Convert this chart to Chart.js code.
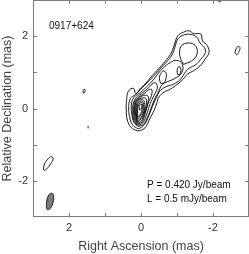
<!DOCTYPE html>
<html><head><meta charset="utf-8">
<script src="https://cdn.jsdelivr.net/npm/chart.js@4/dist/chart.umd.min.js"></script>
<style>html,body{margin:0;padding:0;background:#fff}canvas{display:block}</style>
</head><body>
<canvas id="c" width="249" height="254"></canvas>
<script>
// ---- data (mas) ----
const sourceName = '0917+624';
const peakLabel = 'P = 0.420 Jy/beam';
const lowestLabel = 'L = 0.5 mJy/beam';
const labeledTicks = [-2, 0, 2];
const tickMarks = [-2, -1, 0, 1, 2];
const xTitle = 'Right Ascension (mas)';
const yTitle = 'Relative Declination (mas)';

// jet contours, outermost first
const contour1 = [[0.10,-0.62],[0.27,-0.53],[0.38,-0.32],[0.41,-0.04],[0.40,0.24],[0.35,0.48],[0.21,0.56],[0.14,0.41],[0.03,0.54],[-0.16,0.73],[-0.32,0.92],[-0.49,1.10],[-0.64,1.27],[-0.78,1.44],[-0.87,1.60],[-0.94,1.81],[-1.03,2.02],[-1.18,2.11],[-1.33,2.15],[-1.47,2.07],[-1.66,2.06],[-1.71,1.87],[-1.84,1.74],[-1.89,1.55],[-1.77,1.35],[-1.64,1.18],[-1.47,1.05],[-1.29,0.95],[-1.18,0.82],[-1.01,0.67],[-0.82,0.54],[-0.64,0.45],[-0.50,0.32],[-0.44,0.15],[-0.36,-0.06],[-0.25,-0.27],[-0.14,-0.50],[-0.01,-0.60]];
const contour2 = [[0.08,-0.56],[0.23,-0.46],[0.32,-0.22],[0.34,0.06],[0.29,0.28],[0.16,0.38],[-0.04,0.58],[-0.23,0.77],[-0.42,0.97],[-0.58,1.15],[-0.73,1.31],[-0.86,1.48],[-0.94,1.69],[-1.03,1.93],[-1.21,2.04],[-1.38,2.05],[-1.55,1.97],[-1.64,1.81],[-1.76,1.68],[-1.79,1.55],[-1.66,1.36],[-1.52,1.21],[-1.33,1.11],[-1.25,1.03],[-1.08,0.79],[-0.90,0.67],[-0.69,0.60],[-0.53,0.49],[-0.42,0.29],[-0.32,0.06],[-0.22,-0.19],[-0.12,-0.41],[0.00,-0.53]];
const contour3 = [[0.07,-0.50],[0.19,-0.39],[0.26,-0.13],[0.26,0.15],[0.19,0.31],[0.01,0.45],[-0.21,0.65],[-0.38,0.84],[-0.51,1.01],[-0.66,1.16],[-0.81,1.27],[-0.95,1.33],[-1.10,1.29],[-1.16,1.18],[-1.16,1.06],[-1.10,0.94],[-0.99,0.86],[-0.86,0.79],[-0.73,0.74],[-0.58,0.65],[-0.49,0.47],[-0.37,0.24],[-0.28,0.01],[-0.19,-0.22],[-0.08,-0.43]];
const knotInner = [[-0.55,0.69],[-0.51,0.82],[-0.55,0.97],[-0.64,1.04],[-0.70,0.97],[-0.69,0.82],[-0.64,0.71]];
const knotOuter = [[-1.02,0.94],[-1.00,1.05],[-1.04,1.15],[-1.09,1.14],[-1.11,1.04],[-1.07,0.94]];
const blobPeak = [[-1.18,1.22],[-1.10,1.38],[-1.07,1.57],[-1.13,1.74],[-1.29,1.81],[-1.47,1.77],[-1.56,1.63],[-1.53,1.44],[-1.40,1.31],[-1.26,1.25]];
// core contours, outer to inner
const coreA = [[0.10,-0.47],[0.20,-0.33],[0.23,-0.05],[0.20,0.18],[0.10,0.33],[-0.06,0.45],[-0.22,0.58],[-0.34,0.70],[-0.42,0.70],[-0.45,0.55],[-0.36,0.36],[-0.26,0.14],[-0.16,-0.15],[-0.05,-0.40]];
const coreB = [[0.10,-0.44],[0.18,-0.30],[0.205,-0.05],[0.175,0.17],[0.07,0.31],[-0.10,0.42],[-0.22,0.52],[-0.30,0.52],[-0.29,0.36],[-0.20,0.15],[-0.12,-0.12],[-0.03,-0.37]];
const coreC = [[0.10,-0.41],[0.16,-0.27],[0.18,-0.03],[0.15,0.17],[0.04,0.30],[-0.11,0.37],[-0.20,0.33],[-0.18,0.10],[-0.10,-0.13],[-0.01,-0.35]];
const coreD = [[0.10,-0.38],[0.145,-0.22],[0.155,0.03],[0.11,0.21],[-0.02,0.29],[-0.14,0.27],[-0.14,0.06],[-0.07,-0.15],[0.02,-0.32]];
const coreE = [[0.10,-0.34],[0.13,-0.18],[0.13,0.05],[0.08,0.20],[-0.04,0.25],[-0.10,0.16],[-0.09,-0.04],[-0.02,-0.22],[0.04,-0.30]];
const coreF = [[0.10,-0.30],[0.115,-0.14],[0.105,0.06],[0.05,0.18],[-0.04,0.20],[-0.07,0.11],[-0.06,-0.05],[0.03,-0.22]];
const coreG = [[0.09,-0.24],[0.10,-0.10],[0.08,0.06],[0.03,0.15],[-0.03,0.16],[-0.04,0.06],[-0.02,-0.08],[0.04,-0.19]];
const coreH = [[0.04,-0.04],[0.05,0.05],[0.02,0.11],[-0.02,0.11],[-0.02,0.04],[0.00,-0.03]];
// isolated contours
const islandEast = [[1.60,0.43],[1.61,0.48],[1.58,0.53],[1.555,0.52],[1.555,0.47],[1.575,0.43]];
const islandSW = [[2.71,-1.67],[2.68,-1.53],[2.58,-1.39],[2.49,-1.33],[2.44,-1.39],[2.51,-1.53],[2.62,-1.67],[2.69,-1.71]];
const islandNW = [[-2.61,1.53],[-2.64,1.64],[-2.70,1.72],[-2.75,1.68],[-2.72,1.57],[-2.66,1.49]];
const islandTop = [[-2.13,3.03],[-2.15,2.97],[-2.19,2.95],[-2.22,2.98],[-2.22,3.03]];
const speck = [[1.47,-0.48],[1.47,-0.55]];
const beam = [[2.63,-2.75],[2.62,-2.56],[2.56,-2.39],[2.48,-2.34],[2.43,-2.40],[2.44,-2.59],[2.51,-2.75],[2.59,-2.80]];

const closedContours = [contour1, contour2, contour3, knotInner, knotOuter, blobPeak,
  coreA, coreB, coreC, coreD, coreE, coreF, coreG, coreH, islandEast, islandSW, islandNW];
const openContours = [islandTop, speck];

const toPts = (a, close) => {
  const p = a.map(([x, y]) => ({x, y}));
  if (close) p.push({x: a[0][0], y: a[0][1]});
  return p;
};
const lineDs = (a, close) => ({
  data: toPts(a, close), showLine: true, pointRadius: 0, borderColor: '#000',
  borderWidth: 0.9, tension: 0.4, fill: false
});
const datasets = closedContours.map(a => lineDs(a, true))
  .concat(openContours.map(a => lineDs(a, false)));
datasets.push(Object.assign(lineDs(beam, true), {fill: 'shape', backgroundColor: '#7a7a7a', borderWidth: 0.8}));

const font = '"Liberation Sans", Arial, sans-serif';
const framePlugin = {
  id: 'frame',
  afterDraw(chart) {
    const {ctx, chartArea: a, scales: {x, y}} = chart;
    ctx.save();
    ctx.strokeStyle = '#7d7d7d'; ctx.lineWidth = 1;
    ctx.strokeRect(a.left + 0.5, a.top + 0.5, a.right - a.left - 1, a.bottom - a.top - 1);
    ctx.beginPath();
    tickMarks.forEach(v => {
      const px = Math.round(x.getPixelForValue(v)) + 0.5;
      ctx.moveTo(px, a.bottom); ctx.lineTo(px, a.bottom - 4);
      ctx.moveTo(px, a.top); ctx.lineTo(px, a.top + 4);
      const py = Math.round(y.getPixelForValue(v)) + 0.5;
      ctx.moveTo(a.left, py); ctx.lineTo(a.left + 4, py);
      ctx.moveTo(a.right, py); ctx.lineTo(a.right - 4, py);
    });
    ctx.stroke();
    ctx.fillStyle = '#111';
    ctx.font = '10px ' + font;
    ctx.textBaseline = 'alphabetic';
    ctx.fillText(sourceName, a.left + 16, a.top + 29);
    ctx.fillText(peakLabel, a.left + 114, a.top + 188);
    ctx.fillText(lowestLabel, a.left + 114, a.top + 202);
    ctx.restore();
  }
};

const setTicks = s => { s.ticks = labeledTicks.map(v => ({value: v})); };
new Chart(document.getElementById('c'), {
  type: 'scatter',
  data: {datasets},
  options: {
    responsive: false, animation: false,
    layout: {padding: 0, autoPadding: false},
    plugins: {legend: {display: false}, tooltip: {enabled: false}},
    scales: {
      x: {
        type: 'linear', min: -3, max: 3, reverse: true,
        afterBuildTicks: setTicks,
        grid: {display: false, drawTicks: false}, border: {display: false},
        ticks: {autoSkip: false, padding: 4, color: '#333', font: {size: 11, family: font}, maxRotation: 0},
        title: {display: true, text: xTitle, color: '#444', font: {size: 12.5, family: font}, padding: {top: 0, bottom: 0}},
        afterFit: s => { s.height = 37; s.paddingLeft = 0; s.paddingRight = 0; }
      },
      y: {
        type: 'linear', min: -3, max: 3,
        afterBuildTicks: setTicks,
        grid: {display: false, drawTicks: false}, border: {display: false},
        ticks: {autoSkip: false, padding: 5, color: '#333', font: {size: 11, family: font}},
        title: {display: true, text: yTitle, color: '#444', font: {size: 12.5, family: font}, padding: {top: 0, bottom: 0}},
        afterFit: s => { s.width = 33; s.paddingTop = 0; s.paddingBottom = 0; }
      }
    }
  },
  plugins: [framePlugin]
});
</script>
</body></html>
